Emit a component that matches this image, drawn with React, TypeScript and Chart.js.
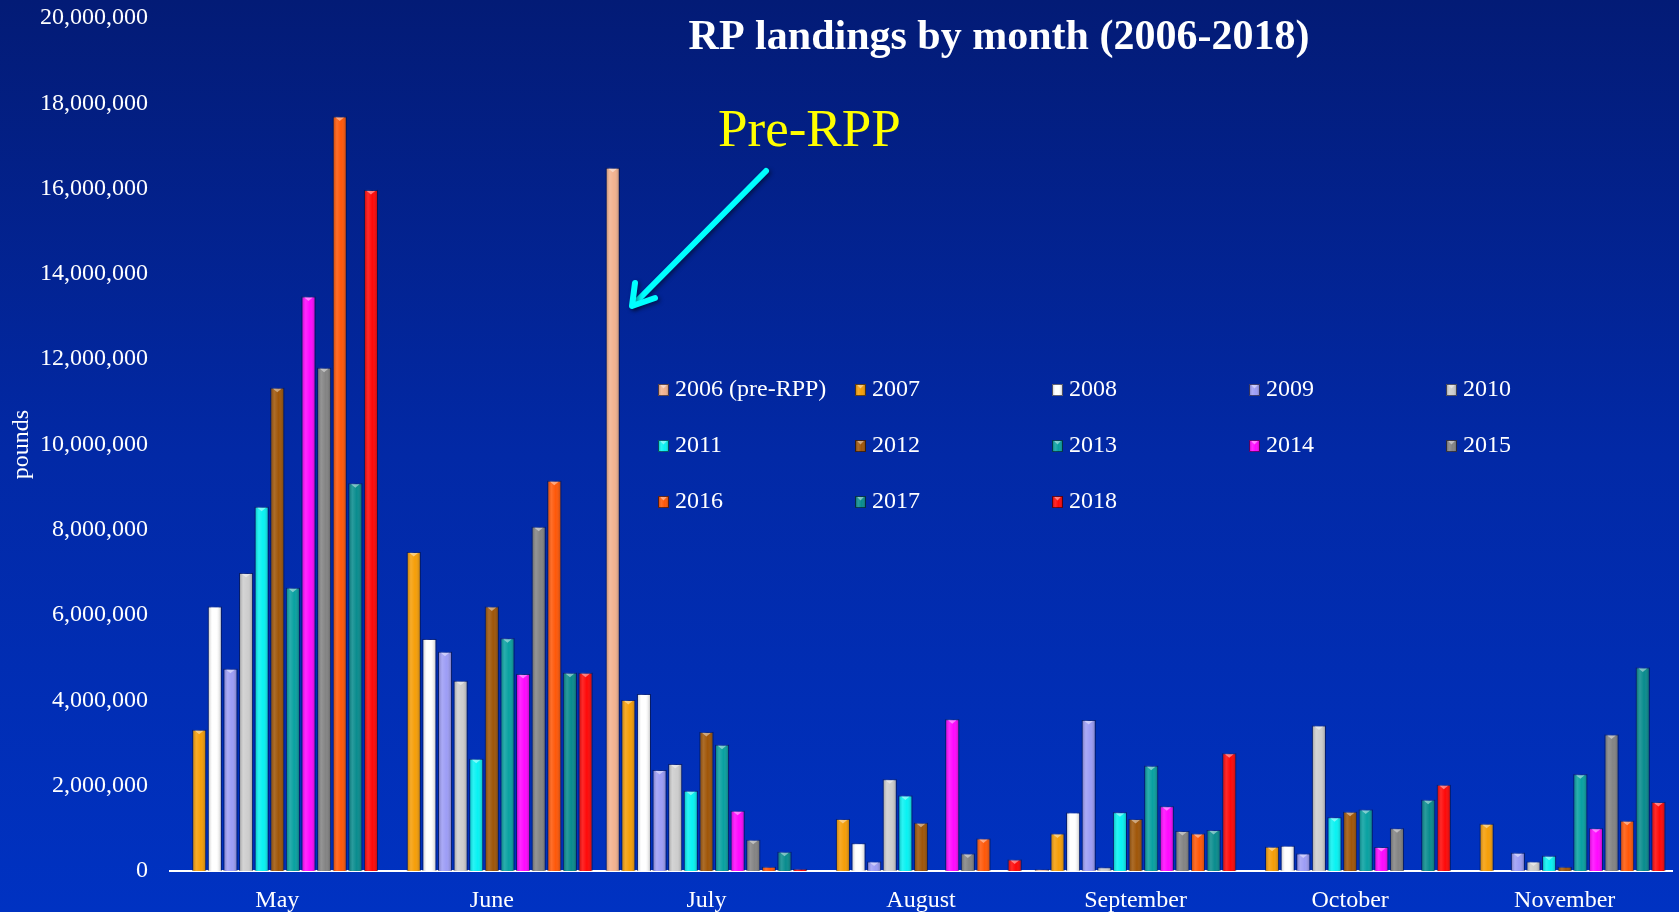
import React, { useEffect, useRef } from 'react';
import { Chart, registerables } from 'chart.js';

Chart.register(...registerables);

const FONT = "'Liberation Serif', 'Times New Roman', serif";

const months = ['May', 'June', 'July', 'August', 'September', 'October', 'November'];

const seriesLabels = [
  '2006 (pre-RPP)', '2007', '2008', '2009', '2010', '2011', '2012',
  '2013', '2014', '2015', '2016', '2017', '2018',
];

const seriesColors = [
  '#F2B08C', '#F59B00', '#FFFFFF', '#9A9AF5', '#CCCCCC', '#00F2F2', '#9C5000',
  '#009E9E', '#FF00FF', '#808080', '#FF5200', '#00888A', '#FF0000',
];

const y2006 = [null, null, 16490000, null, 40000, null, null];
const y2007 = [3310000, 7480000, 4010000, 1220000, 880000, 570000, 1110000];
const y2008 = [6200000, 5440000, 4150000, 650000, 1370000, 590000, null];
const y2009 = [4740000, 5140000, 2370000, 220000, 3540000, 410000, 430000];
const y2010 = [6990000, 4460000, 2510000, 2150000, 90000, 3410000, 220000];
const y2011 = [8540000, 2630000, 1880000, 1770000, 1380000, 1260000, 360000];
const y2012 = [11330000, 6200000, 3260000, 1130000, 1220000, 1390000, 100000];
const y2013 = [6640000, 5460000, 2960000, null, 2470000, 1440000, 2270000];
const y2014 = [13470000, 4620000, 1410000, 3560000, 1520000, 560000, 1000000];
const y2015 = [11800000, 8070000, 730000, 410000, 940000, 1000000, 3200000];
const y2016 = [17690000, 9150000, 100000, 760000, 880000, null, 1180000];
const y2017 = [9090000, 4650000, 450000, null, 960000, 1670000, 4770000];
const y2018 = [15970000, 4650000, 50000, 270000, 2760000, 2020000, 1620000];

const seriesValues = [y2006, y2007, y2008, y2009, y2010, y2011, y2012, y2013, y2014, y2015, y2016, y2017, y2018];

const yTickStep = 2000000;
const yMax = 20000000;

const titleText = 'RP landings by month (2006-2018)';
const yAxisTitle = 'pounds';
const annotationText = 'Pre-RPP';

function shadeRect(ctx: CanvasRenderingContext2D, left: number, top: number, w: number, h: number) {
  const g = ctx.createLinearGradient(left, 0, left + w, 0);
  g.addColorStop(0, 'rgba(0,0,0,0.25)');
  g.addColorStop(0.3, 'rgba(255,255,255,0.16)');
  g.addColorStop(0.6, 'rgba(255,255,255,0.03)');
  g.addColorStop(1, 'rgba(0,0,0,0.28)');
  ctx.fillStyle = g;
  ctx.fillRect(left, top, w, h);
  if (h > 5) {
    ctx.beginPath();
    ctx.moveTo(left + w * 0.2, top + 1);
    ctx.lineTo(left + w * 0.8, top + 1);
    ctx.lineTo(left + w * 0.5, top + 4.5);
    ctx.closePath();
    ctx.fillStyle = 'rgba(255,255,255,0.45)';
    ctx.fill();
  }
}

const decorPlugin = {
  id: 'decor',
  afterDatasetsDraw(chart: any) {
    const ctx: CanvasRenderingContext2D = chart.ctx;
    ctx.save();
    chart.data.datasets.forEach((ds: any, di: number) => {
      const meta = chart.getDatasetMeta(di);
      meta.data.forEach((bar: any, i: number) => {
        const v = ds.data[i];
        if (v == null) return;
        const { x, y, base, width } = bar.getProps(['x', 'y', 'base', 'width'], true);
        const h = base - y;
        if (h < 1) return;
        shadeRect(ctx, x - width / 2, y, width, h);
      });
    });
    ctx.restore();
  },
  afterDraw(chart: any) {
    const ctx: CanvasRenderingContext2D = chart.ctx;
    const area = chart.chartArea;
    ctx.save();

    // Title
    ctx.fillStyle = '#FFFFFF';
    ctx.font = `bold 42px ${FONT}`;
    ctx.textAlign = 'center';
    ctx.textBaseline = 'alphabetic';
    ctx.fillText(titleText, area.left + 829, 49);

    // Annotation text
    ctx.fillStyle = '#FFFF00';
    ctx.font = `53px ${FONT}`;
    ctx.textAlign = 'left';
    ctx.fillText(annotationText, area.left + 548, 146);

    // Arrow
    ctx.strokeStyle = '#00FFFF';
    ctx.lineWidth = 6;
    ctx.lineCap = 'round';
    ctx.lineJoin = 'round';
    ctx.shadowColor = 'rgba(0,0,0,0.45)';
    ctx.shadowBlur = 4;
    ctx.shadowOffsetX = 2;
    ctx.shadowOffsetY = 2;
    ctx.beginPath();
    ctx.moveTo(area.left + 596, 171);
    ctx.lineTo(area.left + 463, 305);
    ctx.stroke();
    ctx.beginPath();
    ctx.moveTo(area.left + 465, 283);
    ctx.lineTo(area.left + 462, 306);
    ctx.lineTo(area.left + 485, 298);
    ctx.stroke();
    ctx.shadowColor = 'transparent';
    ctx.shadowBlur = 0;
    ctx.shadowOffsetX = 0;
    ctx.shadowOffsetY = 0;

    // Legend
    ctx.font = `24px ${FONT}`;
    ctx.textBaseline = 'middle';
    ctx.textAlign = 'left';
    chart.data.datasets.forEach((ds: any, i: number) => {
      const col = i % 5;
      const row = Math.floor(i / 5);
      const mx = area.left + 488 + col * 197;
      const my = 390 + row * 56;
      ctx.fillStyle = ds.backgroundColor;
      ctx.fillRect(mx, my - 6, 11, 12);
      shadeRect(ctx, mx, my - 6, 11, 12);
      ctx.strokeStyle = 'rgba(0,0,30,0.6)';
      ctx.lineWidth = 1;
      ctx.lineCap = 'butt';
      ctx.strokeRect(mx + 0.5, my - 5.5, 10, 11);
      ctx.fillStyle = '#FFFFFF';
      ctx.fillText(ds.label, mx + 17, my);
    });

    ctx.restore();
  },
};

export default function App() {
  const canvasRef = useRef<HTMLCanvasElement | null>(null);

  useEffect(() => {
    document.body.style.margin = '0';
    const canvas = canvasRef.current;
    if (!canvas) return;
    const chart = new Chart(canvas, {
      type: 'bar',
      data: {
        labels: months,
        datasets: seriesLabels.map((label, i) => ({
          label,
          data: seriesValues[i],
          backgroundColor: seriesColors[i],
          borderColor: 'rgba(0,0,40,0.35)',
          borderWidth: 1,
          categoryPercentage: 0.946,
          barPercentage: 0.9,
        })),
      },
      options: {
        responsive: false,
        animation: false,
        devicePixelRatio: 1,
        layout: { padding: { top: 18, right: 7, left: 0, bottom: 0 } },
        plugins: {
          legend: { display: false },
          title: { display: false },
          tooltip: { enabled: false },
        },
        scales: {
          x: {
            grid: { display: false, drawTicks: false },
            border: { display: true, color: '#FFFFFF', width: 2 },
            ticks: {
              color: '#FFFFFF',
              font: { family: FONT, size: 24 },
              padding: 15,
              maxRotation: 0,
              autoSkip: false,
            },
            afterFit: (s: any) => { s.height = 41; },
          },
          y: {
            min: 0,
            max: yMax,
            grid: { display: false, drawTicks: false },
            border: { display: false },
            ticks: {
              stepSize: yTickStep,
              color: '#FFFFFF',
              font: { family: FONT, size: 24 },
              padding: 22,
              callback: (v: any) => Number(v).toLocaleString('en-US'),
            },
            title: {
              display: true,
              text: yAxisTitle,
              color: '#FFFFFF',
              font: { family: FONT, size: 24 },
              padding: { top: 7, bottom: 0 },
            },
            afterFit: (s: any) => {
              s.width = 170;
              s.paddingTop = 0;
              s.paddingBottom = 0;
            },
          },
        },
      },
      plugins: [decorPlugin],
    } as any);
    return () => chart.destroy();
  }, []);

  return (
    <div
      style={{
        position: 'fixed',
        left: 0,
        top: 0,
        width: 1679,
        height: 912,
        background: 'linear-gradient(180deg, #031b76 0%, #0229a6 50%, #0032c2 100%)',
        overflow: 'hidden',
      }}
    >
      <canvas ref={canvasRef} width={1679} height={912} style={{ display: 'block', width: 1679, height: 912 }} />
    </div>
  );
}
